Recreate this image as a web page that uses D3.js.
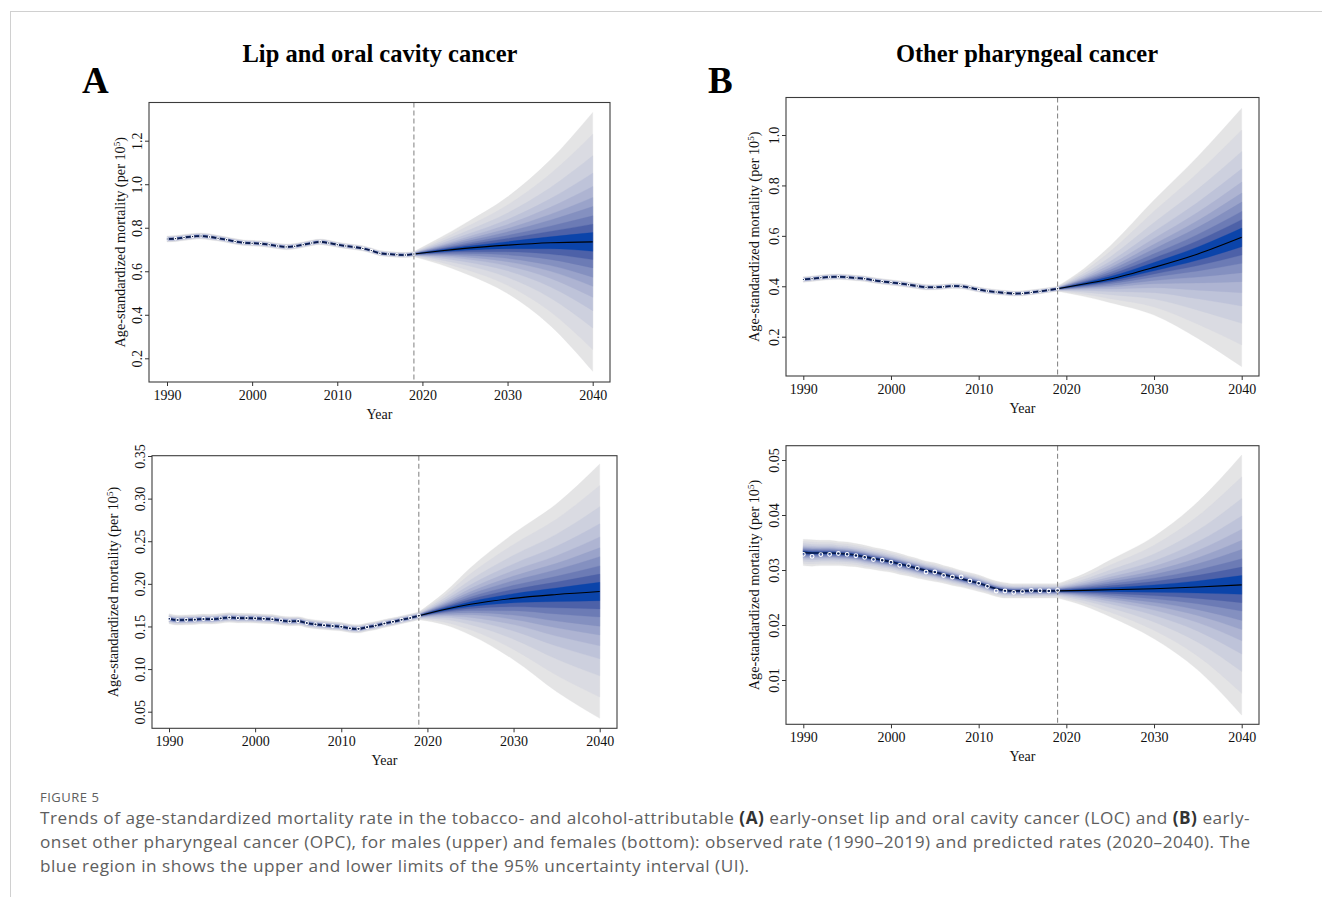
<!DOCTYPE html>
<html><head><meta charset="utf-8">
<script src="https://cdn.jsdelivr.net/npm/d3@7"></script>
<style>
body{margin:0;background:#fff}
svg{display:block;font-family:"Liberation Serif","Times New Roman",serif}
.cap{font-family:"Open Sans",sans-serif;fill:#5e5e5e}
</style></head><body>
<svg id="fig" width="1322" height="897"></svg>
<script>
'use strict';
/* Figure 5 — fan charts of age-standardized mortality, observed 1990–2019
   plus BAPC-style projection 2019–2040 (four panels). */

const OBS_YEARS=d3.range(1990,2020);
const FC_YEARS=[2019,2022,2025,2030,2035,2040];
const X_TICKS=[1990,2000,2010,2020,2030,2040];

// fan: share of the outer (95%) half-width for each band, outer → inner
const FAN_LEVELS=[1.0,0.832,0.665,0.531,0.428,0.343,0.273,0.201,0.137,0.072];
const FAN_COLORS=['#e4e4e5','#dadbe2','#cdd0de','#bec3d9','#aeb4d2','#9aa3ca','#8490c0','#6c7bb5','#4d61a8','#0b44aa'];

// A upper: lip and oral cavity, males
const obsA1=[0.748,0.750,0.755,0.760,0.762,0.758,0.752,0.745,0.737,0.731,0.729,0.727,0.722,0.716,0.712,0.715,0.722,0.730,0.735,0.730,0.722,0.716,0.711,0.705,0.695,0.683,0.679,0.676,0.675,0.679];
const halfA1=[0.014,0.014,0.014,0.014,0.014,0.014,0.013,0.013,0.013,0.013,0.013,0.013,0.013,0.013,0.013,0.013,0.013,0.013,0.013,0.013,0.012,0.012,0.012,0.012,0.012,0.012,0.012,0.012,0.012,0.012];
const midA1=[0.679,0.693,0.705,0.720,0.731,0.735];
const hiA1=[0.691,0.753,0.820,0.942,1.111,1.330];
const loA1=[0.667,0.633,0.590,0.498,0.351,0.140];

// B upper: other pharyngeal, males
const obsB1=[0.427,0.430,0.434,0.437,0.438,0.436,0.433,0.430,0.424,0.419,0.415,0.411,0.406,0.401,0.396,0.396,0.398,0.401,0.400,0.394,0.387,0.381,0.377,0.374,0.371,0.372,0.376,0.380,0.385,0.390];
const halfB1=[0.011,0.011,0.011,0.011,0.011,0.011,0.011,0.011,0.011,0.011,0.011,0.011,0.011,0.011,0.011,0.010,0.010,0.010,0.010,0.010,0.010,0.010,0.010,0.010,0.010,0.010,0.010,0.010,0.010,0.010];
const midB1=[0.390,0.409,0.429,0.475,0.528,0.594];
const hiB1=[0.400,0.470,0.560,0.742,0.915,1.106];
const loB1=[0.380,0.360,0.335,0.286,0.193,0.081];

// A lower: lip and oral cavity, females
const obsA2=[0.1590,0.1575,0.1578,0.1580,0.1588,0.1585,0.1595,0.1605,0.1598,0.1598,0.1595,0.1590,0.1585,0.1570,0.1560,0.1563,0.1540,0.1525,0.1515,0.1505,0.1497,0.1478,0.1472,0.1492,0.1510,0.1535,0.1555,0.1578,0.1600,0.1625];
const halfA2=[0.0058,0.0058,0.0058,0.0057,0.0057,0.0057,0.0056,0.0056,0.0056,0.0055,0.0055,0.0054,0.0054,0.0053,0.0053,0.0052,0.0052,0.0051,0.0051,0.0050,0.0050,0.0049,0.0049,0.0048,0.0048,0.0047,0.0047,0.0046,0.0046,0.0045];
const midA2=[0.1625,0.1700,0.1760,0.1830,0.1875,0.1910];
const hiA2=[0.1670,0.1900,0.2190,0.2590,0.2940,0.3406];
const loA2=[0.1580,0.1520,0.1400,0.1110,0.0735,0.0422];

// B lower: other pharyngeal, females
const obsB2=[0.03285,0.03248,0.03280,0.03285,0.03300,0.03285,0.03260,0.03230,0.03190,0.03176,0.03140,0.03085,0.03080,0.03030,0.02964,0.02964,0.02900,0.02873,0.02873,0.02800,0.02758,0.02703,0.02618,0.02618,0.02594,0.02606,0.02630,0.02624,0.02618,0.02630];
const fitB2=[0.0332,0.0331,0.0331,0.0331,0.0330,0.0329,0.0327,0.0324,0.0321,0.0318,0.0315,0.0311,0.0307,0.0303,0.0299,0.0296,0.0292,0.0288,0.0284,0.0280,0.0276,0.0271,0.0266,0.0263,0.0262,0.0262,0.0262,0.0262,0.0262,0.0262];
const halfB2=[0.0024,0.0024,0.0023,0.0023,0.0022,0.0022,0.0021,0.0021,0.0020,0.0020,0.0019,0.0019,0.0018,0.0018,0.0017,0.0017,0.0016,0.0016,0.0015,0.0015,0.0015,0.0014,0.0014,0.0014,0.0013,0.0013,0.0013,0.0013,0.0013,0.0013];
const midB2=[0.0262,0.0263,0.0264,0.0266,0.0269,0.0273];
const hiB2=[0.0275,0.0293,0.0318,0.0361,0.0424,0.0509];
const loB2=[0.0249,0.0235,0.0215,0.0175,0.0118,0.0036];

const yTicksA1=[0.2,0.4,0.6,0.8,1.0,1.2];
const yTicksB1=[0.2,0.4,0.6,0.8,1.0];
const yTicksA2=[0.05,0.10,0.15,0.20,0.25,0.30,0.35];
const yTicksB2=[0.01,0.02,0.03,0.04,0.05];

const svg=d3.select('#fig');

// frame of the figure card
svg.append('line').attr('x1',10).attr('x2',1322).attr('y1',11.5).attr('y2',11.5).attr('stroke','#d0d0d0');
svg.append('line').attr('x1',10.5).attr('x2',10.5).attr('y1',11).attr('y2',897).attr('stroke','#d0d0d0');

const panels=[
  {obs:obsA1,fit:obsA1,half:halfA1,mid:midA1,hi:hiA1,lo:loA1,ticks:yTicksA1,fmt:'.1f',
   box:[149,102.5,610,382],xr:[167,592.7],yd:[0.2,1.2],yr:[358.3,140.7],labOff:28,r:1.25},
  {obs:obsB1,fit:obsB1,half:halfB1,mid:midB1,hi:hiB1,lo:loB1,ticks:yTicksB1,fmt:'.1f',
   box:[786,97.5,1259,376],xr:[803.3,1241.7],yd:[0.2,1.0],yr:[336.7,135],labOff:31,r:1.25},
  {obs:obsA2,fit:obsA2,half:halfA2,mid:midA2,hi:hiA2,lo:loA2,ticks:yTicksA2,fmt:'.2f',
   box:[152,455.7,617,728.3],xr:[169,599.7],yd:[0.05,0.35],yr:[711.7,456],labOff:38,r:1.6},
  {obs:obsB2,fit:fitB2,half:halfB2,mid:midB2,hi:hiB2,lo:loB2,ticks:yTicksB2,fmt:'.2f',
   box:[786,445.7,1259,724.3],xr:[803.3,1241.7],yd:[0.01,0.05],yr:[680,460],labOff:31,r:1.9}
];

function drawPanel(p){
  const [L,T,R,B]=p.box;
  const g=svg.append('g');
  const x=d3.scaleLinear().domain([1990,2040]).range(p.xr);
  const y=d3.scaleLinear().domain(p.yd).range(p.yr);

  // fan bands, outer → inner, observed period then projection
  FAN_LEVELS.forEach((k,i)=>{
    const col=FAN_COLORS[i];
    const aObs=d3.area().curve(d3.curveMonotoneX)
      .x((d,j)=>x(OBS_YEARS[j]))
      .y0((d,j)=>y(d-k*p.half[j])).y1((d,j)=>y(d+k*p.half[j]));
    g.append('path').datum(p.fit).attr('d',aObs).attr('fill',col).attr('stroke',col).attr('stroke-width',0.3);
    const aFc=d3.area().curve(d3.curveMonotoneX)
      .x((d,j)=>x(FC_YEARS[j]))
      .y0((d,j)=>y(d-k*(d-p.lo[j]))).y1((d,j)=>y(d+k*(p.hi[j]-d)));
    g.append('path').datum(p.mid).attr('d',aFc).attr('fill',col).attr('stroke',col).attr('stroke-width',0.3);
  });

  // 2019 divider
  g.append('line').attr('x1',x(2019)).attr('x2',x(2019)).attr('y1',T).attr('y2',B)
    .attr('stroke','#8a8a8a').attr('stroke-width',1.1).attr('stroke-dasharray','5,3');

  // fitted + projected mean
  const ln=d3.line().curve(d3.curveMonotoneX);
  g.append('path').attr('d',ln(p.fit.map((v,j)=>[x(OBS_YEARS[j]),y(v)])))
    .attr('fill','none').attr('stroke','#0b1a48').attr('stroke-width',1.6);
  g.append('path').attr('d',ln(p.mid.map((v,j)=>[x(FC_YEARS[j]),y(v)])))
    .attr('fill','none').attr('stroke','#000').attr('stroke-width',1.1);

  // observed rates
  g.selectAll('circle.obs').data(p.obs).join('circle').attr('class','obs')
    .attr('cx',(d,j)=>x(OBS_YEARS[j])).attr('cy',d=>y(d)).attr('r',p.r)
    .attr('fill','none').attr('stroke','#fff').attr('stroke-width',1.1);

  // box
  g.append('rect').attr('x',L).attr('y',T).attr('width',R-L).attr('height',B-T)
    .attr('fill','none').attr('stroke','#3c3c3c').attr('stroke-width',1.1);

  // axes
  const ax=g.append('g').attr('transform',`translate(0,${B})`)
    .call(d3.axisBottom(x).tickValues(X_TICKS).tickFormat(d3.format('d')).tickSize(4).tickPadding(4));
  const ay=g.append('g').attr('transform',`translate(${L},0)`)
    .call(d3.axisLeft(y).tickValues(p.ticks).tickFormat(d3.format(p.fmt)).tickSize(4));
  [ax,ay].forEach(a=>{
    a.select('.domain').remove();
    a.attr('font-family',null).attr('font-size',null);
    a.selectAll('line').attr('stroke','#333');
    a.selectAll('text').attr('fill','#111').style('font-size','14px');
  });
  ax.selectAll('text').attr('y',8).attr('dy','0.71em');
  ay.selectAll('text').attr('transform','rotate(-90)').attr('x',0).attr('y',-7).attr('dy',0)
    .attr('text-anchor','middle');

  g.append('text').attr('x',(L+R)/2).attr('y',B+37).attr('text-anchor','middle')
    .style('font-size','14px').attr('fill','#111').text('Year');

  const yl=g.append('text').attr('transform',`translate(${L-p.labOff+4},${(T+B)/2}) rotate(-90)`)
    .attr('text-anchor','middle').style('font-size','14.3px').attr('fill','#111');
  yl.append('tspan').text('Age-standardized mortality (per 10');
  yl.append('tspan').attr('dy',-5).style('font-size','9px').text('5');
  yl.append('tspan').attr('dy',5).text(')');
}
panels.forEach(drawPanel);

// panel titles and letters
svg.append('text').attr('x',380).attr('y',62).attr('text-anchor','middle')
  .style('font-size','24.5px').style('font-weight','bold').text('Lip and oral cavity cancer');
svg.append('text').attr('x',1027).attr('y',62).attr('text-anchor','middle')
  .style('font-size','24.5px').style('font-weight','bold').text('Other pharyngeal cancer');
svg.append('text').attr('x',82).attr('y',93).style('font-size','37px').style('font-weight','bold').text('A');
svg.append('text').attr('x',708).attr('y',93).style('font-size','37px').style('font-weight','bold').text('B');

// caption
svg.append('text').attr('class','cap').attr('x',40).attr('y',802)
  .style('font-size','13px').style('letter-spacing','0.5px').text('FIGURE 5');
const capLines=[
  [['Trends of age-standardized mortality rate in the tobacco- and alcohol-attributable ',0],['(A)',1],[' early-onset lip and oral cavity cancer (LOC) and ',0],['(B)',1],[' early-',0]],
  [['onset other pharyngeal cancer (OPC), for males (upper) and females (bottom): observed rate (1990–2019) and predicted rates (2020–2040). The',0]],
  [['blue region in shows the upper and lower limits of the 95% uncertainty interval (UI).',0]]
];
capLines.forEach((parts,i)=>{
  const t=svg.append('text').attr('class','cap').attr('x',40).attr('y',824+i*24)
    .style('font-size','17.2px').style('letter-spacing','0.5px');
  parts.forEach(([s,b])=>t.append('tspan').style('font-weight',b?'bold':null).attr('fill',b?'#333':null).text(s));
});
</script></body></html>
